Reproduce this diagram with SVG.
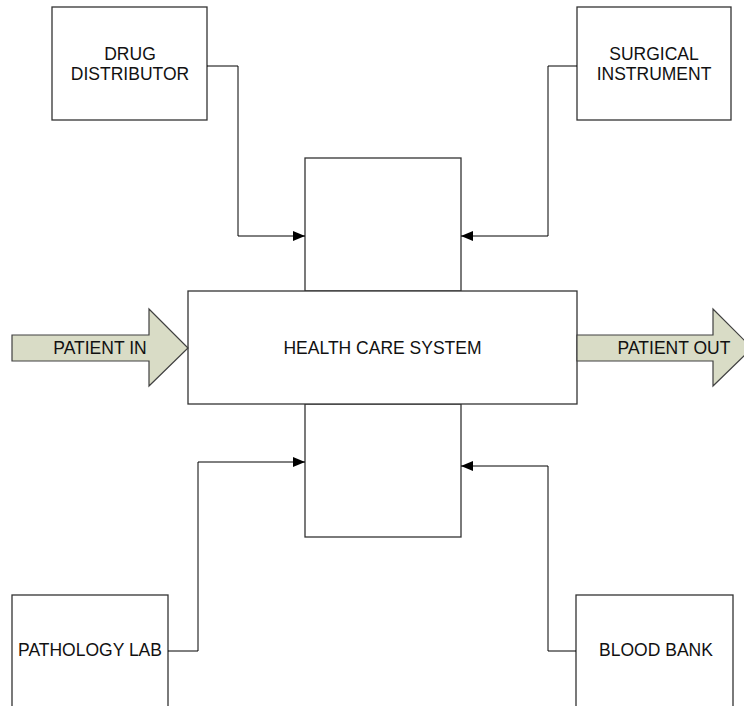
<svg xmlns="http://www.w3.org/2000/svg" width="744" height="706" viewBox="0 0 744 706">
  <defs>
    <style>
      .box { fill: #ffffff; stroke: #333333; stroke-width: 1.3; }
      .flow { fill: #d9dcc6; stroke: #404040; stroke-width: 1.2; }
      .wire { fill: none; stroke: #000000; stroke-width: 1; }
      .lbl { font-family: "Liberation Sans", Arial, sans-serif; font-size: 17.5px; fill: #111111; text-anchor: middle; }
    </style>
    <marker id="tip" viewBox="0 0 12 10" refX="12" refY="5" markerWidth="12" markerHeight="10" markerUnits="userSpaceOnUse" orient="auto">
      <path d="M0,0 L12,5 L0,10 Z" fill="#000000"/>
    </marker>
  </defs>

  <rect width="744" height="706" fill="#ffffff"/>

  <!-- central cross-shaped system -->
  <g id="system-top">
    <rect class="box" x="305" y="158" width="156" height="133"/>
  </g>
  <g id="system-bottom">
    <rect class="box" x="305" y="404" width="156" height="133"/>
  </g>
  <g id="health-care-system">
    <rect class="box" x="188" y="291" width="389" height="113"/>
    <text class="lbl" x="382.5" y="354">HEALTH CARE SYSTEM</text>
  </g>

  <!-- suppliers -->
  <g id="drug-distributor">
    <rect class="box" x="52" y="7" width="155" height="113"/>
    <text class="lbl" x="130" y="60">DRUG</text>
    <text class="lbl" x="130" y="80">DISTRIBUTOR</text>
  </g>
  <g id="surgical-instrument">
    <rect class="box" x="577" y="7" width="154" height="113"/>
    <text class="lbl" x="654" y="60">SURGICAL</text>
    <text class="lbl" x="654" y="80">INSTRUMENT</text>
  </g>
  <g id="pathology-lab">
    <rect class="box" x="12" y="595" width="156" height="130"/>
    <text class="lbl" x="90" y="656">PATHOLOGY LAB</text>
  </g>
  <g id="blood-bank">
    <rect class="box" x="576" y="595" width="157" height="130"/>
    <text class="lbl" x="656" y="656">BLOOD BANK</text>
  </g>

  <!-- patient flow -->
  <g id="patient-in">
    <path class="flow" d="M12,335 L149,335 L149,309 L188,348 L149,386 L149,361 L12,361 Z"/>
    <text class="lbl" x="100" y="354">PATIENT IN</text>
  </g>
  <g id="patient-out">
    <path class="flow" d="M577,335 L713,335 L713,309 L752,348 L713,386 L713,361 L577,361 Z"/>
    <text class="lbl" x="674" y="354">PATIENT OUT</text>
  </g>

  <!-- connectors -->
  <g id="connectors">
    <polyline class="wire" points="207,66 238,66 238,236 305,236" marker-end="url(#tip)"/>
    <polyline class="wire" points="577,66 548,66 548,236 461,236" marker-end="url(#tip)"/>
    <polyline class="wire" points="168,651 198,651 198,462 305,462" marker-end="url(#tip)"/>
    <polyline class="wire" points="576,651 548,651 548,466 461,466" marker-end="url(#tip)"/>
  </g>
</svg>
